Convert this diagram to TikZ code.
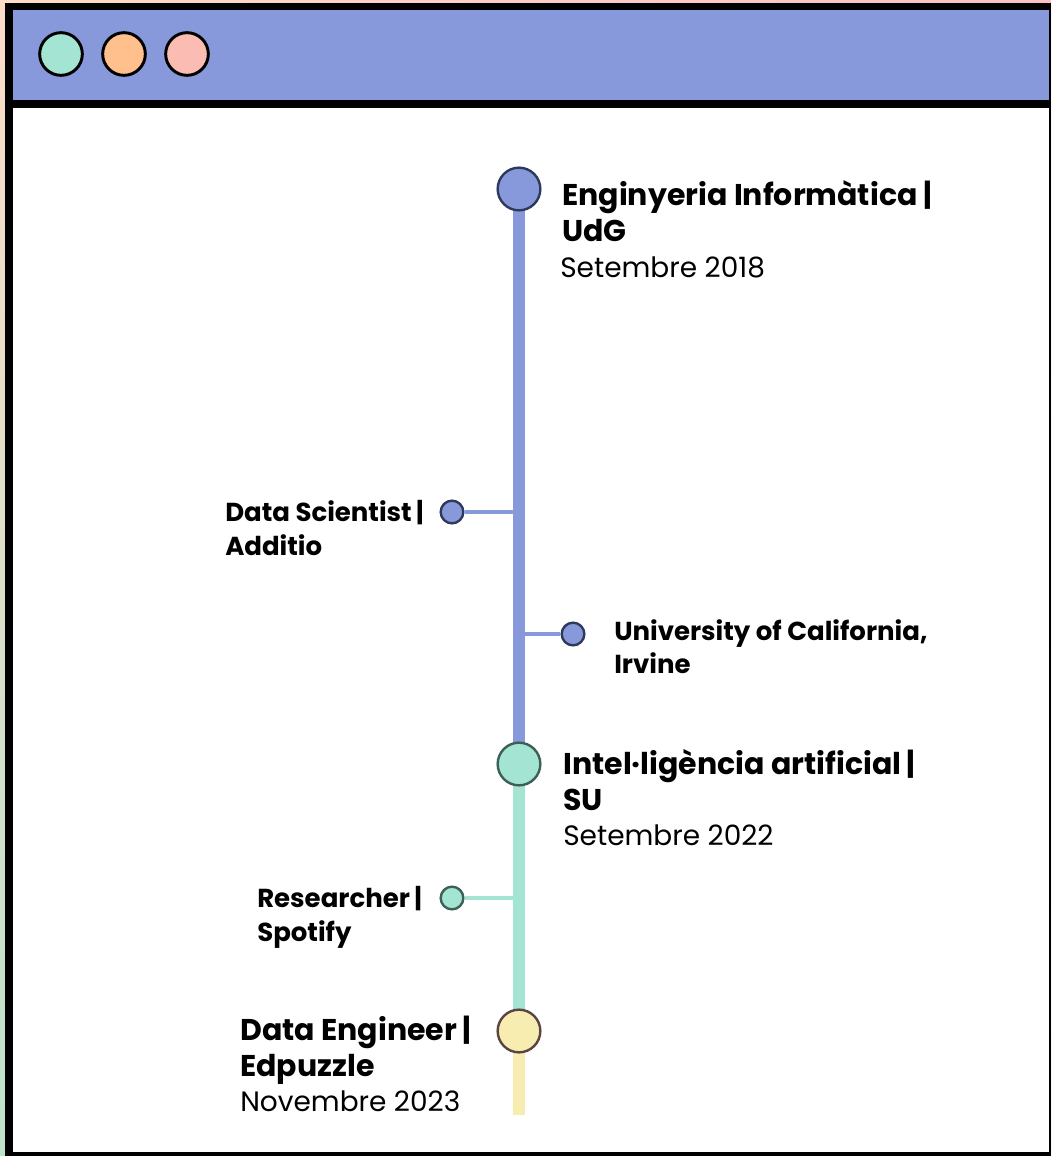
\documentclass[tikz,border=0pt]{standalone}
\usepackage{fontspec}
\setmainfont{Poppins}
\usetikzlibrary{shadings}
\definecolor{tlblue}{HTML}{8899DB}
\definecolor{tlgreen}{HTML}{A3E4D3}
\definecolor{tlyellow}{HTML}{F7EDB0}
\definecolor{btorange}{HTML}{FFC08E}
\definecolor{btpink}{HTML}{FABCB3}
\definecolor{edblue}{HTML}{2E3A5C}
\definecolor{edgreen}{HTML}{3D5F55}
\definecolor{edbrown}{HTML}{5B4444}
\definecolor{bgpeach}{HTML}{FDDCC8}
\definecolor{bggreen}{HTML}{BDE3C9}
\definecolor{bgpink}{HTML}{F9C0C8}
\begin{document}
\begin{tikzpicture}[x=0.75pt,y=-0.75pt,
  winbtn/.style={circle,draw=black,line width=2.2pt,minimum size=32pt,inner sep=0pt},
  bigdot/.style={circle,line width=1.8pt,minimum size=32pt,inner sep=0pt},
  smalldot/.style={circle,line width=1.8pt,minimum size=17pt,inner sep=0pt},
  mainline/.style={line width=9pt},
  branch/.style={line width=2.6pt},
  ttl/.style={anchor=base west,inner sep=0pt,font=\fontsize{22.5}{27}\selectfont\bfseries},
  sub/.style={anchor=base west,inner sep=0pt,font=\fontsize{19.5}{23}\selectfont\bfseries},
  dat/.style={anchor=base west,inner sep=0pt,font=\fontsize{21}{25}\selectfont},
]
\useasboundingbox (0,0) rectangle (1051,1156);
% background
\shade[upper left=bgpeach,upper right=bgpink,lower left=bggreen,lower right=bggreen] (0,0) rectangle (1051,1156);
% window
\fill[black] (5,3) rectangle (1051,1156);
\fill[tlblue] (13,10) rectangle (1049,100);
\fill[white] (13,108) rectangle (1049,1152);
\node[winbtn,fill=tlgreen] (b1) at (61,54) {};
\node[winbtn,fill=btorange] (b2) at (124,54) {};
\node[winbtn,fill=btpink] (b3) at (187,54) {};
% timeline nodes
\node[bigdot] (m1) at (519,189) {};
\node[bigdot] (m2) at (519,764) {};
\node[bigdot] (m3) at (519,1031) {};
\coordinate (endl) at (519,1115);
\coordinate (j1) at (519,512);
\coordinate (j2) at (519,634);
\coordinate (j3) at (519,898);
\node[smalldot] (s1) at (452,512) {};
\node[smalldot] (s2) at (573,634) {};
\node[smalldot] (s3) at (452,898) {};
% lines
\draw[mainline,tlblue] (m1.center) -- (m2.center);
\draw[mainline,tlgreen] (m2.center) -- (m3.center);
\draw[mainline,tlyellow] (m3.center) -- (endl);
\draw[branch,tlblue] (s1) -- (j1);
\draw[branch,tlblue] (s2) -- (j2);
\draw[branch,tlgreen] (s3) -- (j3);
% dots on top
\node[bigdot,draw=edblue,fill=tlblue] at (m1) {};
\node[bigdot,draw=edgreen,fill=tlgreen] at (m2) {};
\node[bigdot,draw=edbrown,fill=tlyellow] at (m3) {};
\node[smalldot,draw=edblue,fill=tlblue] at (s1) {};
\node[smalldot,draw=edblue,fill=tlblue] at (s2) {};
\node[smalldot,draw=edgreen,fill=tlgreen] at (s3) {};
% texts
\node[ttl] (t1a) at (562,205) {Enginyeria Informàtica |};
\node[ttl] (t1b) at (562,241) {UdG};
\node[dat] (t1c) at (560,277) {Setembre 2018};
\node[sub] (t2a) at (225,521) {Data Scientist\,|};
\node[sub] (t2b) at (225,555) {Additio};
\node[sub] (t3a) at (614,640) {University of California,};
\node[sub] (t3b) at (614,673) {Irvine};
\node[ttl] (t4a) at (563,774) {Intel·ligència artificial\,|};
\node[ttl] (t4b) at (563,810) {SU};
\node[dat] (t4c) at (563,845) {Setembre 2022};
\node[sub] (t5a) at (257,907) {Researcher\,|};
\node[sub] (t5b) at (257,941) {Spotify};
\node[ttl] (t6a) at (240,1040) {Data Engineer\,|};
\node[ttl] (t6b) at (240,1076) {Edpuzzle};
\node[dat] (t6c) at (240,1111) {Novembre 2023};
\end{tikzpicture}
\end{document}
